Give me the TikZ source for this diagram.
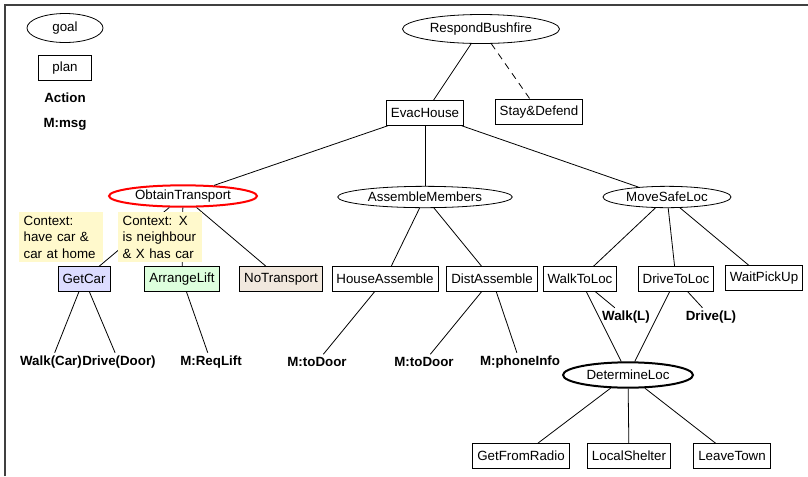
\documentclass[tikz,border=0pt]{standalone}
\usepackage{fontspec}
\setmainfont{Liberation Sans}
\usetikzlibrary{shapes.geometric}
\definecolor{ctxyellow}{HTML}{FFF9CC}
\definecolor{carblue}{HTML}{DCDCFF}
\definecolor{liftgreen}{HTML}{DDFFDD}
\definecolor{notbeige}{HTML}{F1E8DE}
\tikzset{
  goal/.style={draw, ellipse, inner sep=0pt},
  plan/.style={draw, rectangle, inner xsep=3.4pt, minimum height=18.5pt},
  act/.style={font=\bfseries, inner sep=2pt},
  ctx/.style={fill=ctxyellow, align=left, text width=56pt, inner xsep=3.75pt, inner ysep=3pt},
}
\begin{document}
\begin{tikzpicture}[x=0.75pt, y=-0.75pt, font=\fontsize{10}{12.4}\selectfont, line width=0.6pt]
	\useasboundingbox (0,0) rectangle (808,476);
	
	% Khung
	\draw[line width=1.1pt, black!75] (5,476) -- (5,5) -- (810,5);
	
	% Chú thích
	\node[goal, minimum width=57pt, minimum height=21.75pt] (lgoal) at (65,28) {goal};
	\node[plan, minimum width=40pt] (lplan) at (65,68) {plan};
	\node[act] (laction) at (65,98) {Action};
	\node[act] (lmsg) at (65,124) {M:msg};
	
	% Mục tiêu và kế hoạch
	\node[goal, minimum width=117.75pt, minimum height=21.75pt] (respond) at (481,29) {RespondBushfire};
	\node[plan] (evac) at (425,113) {EvacHouse};
	\node[plan] (stay) at (539,112) {Stay\&Defend};
	\node[goal, draw=red, line width=1.5pt, minimum width=111pt, minimum height=16pt] (obtain) at (183,196) {ObtainTransport};
	\node[goal, minimum width=131pt, minimum height=16pt] (assemble) at (425,197) {AssembleMembers};
	\node[goal, minimum width=96pt, minimum height=16pt] (movesafe) at (667,197) {MoveSafeLoc};
	
	\node[plan, fill=carblue] (getcar) at (84,279) {GetCar};
	\node[plan, fill=liftgreen] (arrange) at (182,279) {ArrangeLift};
	\node[plan, fill=notbeige] (notrans) at (281,279) {NoTransport};
	\node[plan] (house) at (385,279) {HouseAssemble};
	\node[plan] (dist) at (492,279) {DistAssemble};
	\node[plan] (walkloc) at (580,279) {WalkToLoc};
	\node[plan] (driveloc) at (676,279) {DriveToLoc};
	\node[plan] (waitpick) at (764,278) {WaitPickUp};
	
	% Hành động
	\node[act] (walkcar) at (51,362) {Walk(Car)};
	\node[act] (drivedoor) at (119,362) {Drive(Door)};
	\node[act] (reqlift) at (211,362) {M:ReqLift};
	\node[act] (todoora) at (317,362) {M:toDoor};
	\node[act] (todoorb) at (424,362) {M:toDoor};
	\node[act] (phone) at (520,362) {M:phoneInfo};
	\node[act] (walkl) at (626,317) {Walk(L)};
	\node[act] (drivel) at (711,317) {Drive(L)};
	
	\node[goal, line width=1.5pt, minimum width=97.5pt, minimum height=19pt] (determine) at (628,375) {DetermineLoc};
	\node[plan] (radio) at (521,456) {GetFromRadio};
	\node[plan] (shelter) at (629,456) {LocalShelter};
	\node[plan] (leave) at (732,456) {LeaveTown};
	
	% Nối các nút
	\draw (respond) -- (evac);
	\draw[dash pattern=on 5pt off 4pt] (respond) -- (stay);
	\draw (evac) -- (obtain);
	\draw (evac) -- (assemble);
	\draw (evac) -- (movesafe);
	\draw (obtain) -- (getcar);
	\draw (obtain) -- (arrange);
	\draw (obtain) -- (notrans);
	\draw (assemble) -- (house);
	\draw (assemble) -- (dist);
	\draw (movesafe) -- (walkloc);
	\draw (movesafe) -- (driveloc);
	\draw (movesafe) -- (waitpick);
	\draw (getcar) -- (walkcar);
	\draw (getcar) -- (drivedoor);
	\draw (arrange) -- (reqlift);
	\draw (house) -- (todoora);
	\draw (dist) -- (todoorb);
	\draw (dist) -- (phone);
	\draw (walkloc) -- (walkl);
	\draw (driveloc) -- (drivel);
	\draw (walkloc) -- (determine);
	\draw (driveloc) -- (determine);
	\draw (determine) -- (radio);
	\draw (determine) -- (shelter);
	\draw (determine) -- (leave);
	
	% Ngữ cảnh (che lên các cạnh)
	\node[ctx] (ctxcar) at (61,237) {Context:\\have car \&\\car at home};
	\node[ctx] (ctxlift) at (160,237) {Context: X\\is neighbour\\\& X has car};
	
\end{tikzpicture}
\end{document}
